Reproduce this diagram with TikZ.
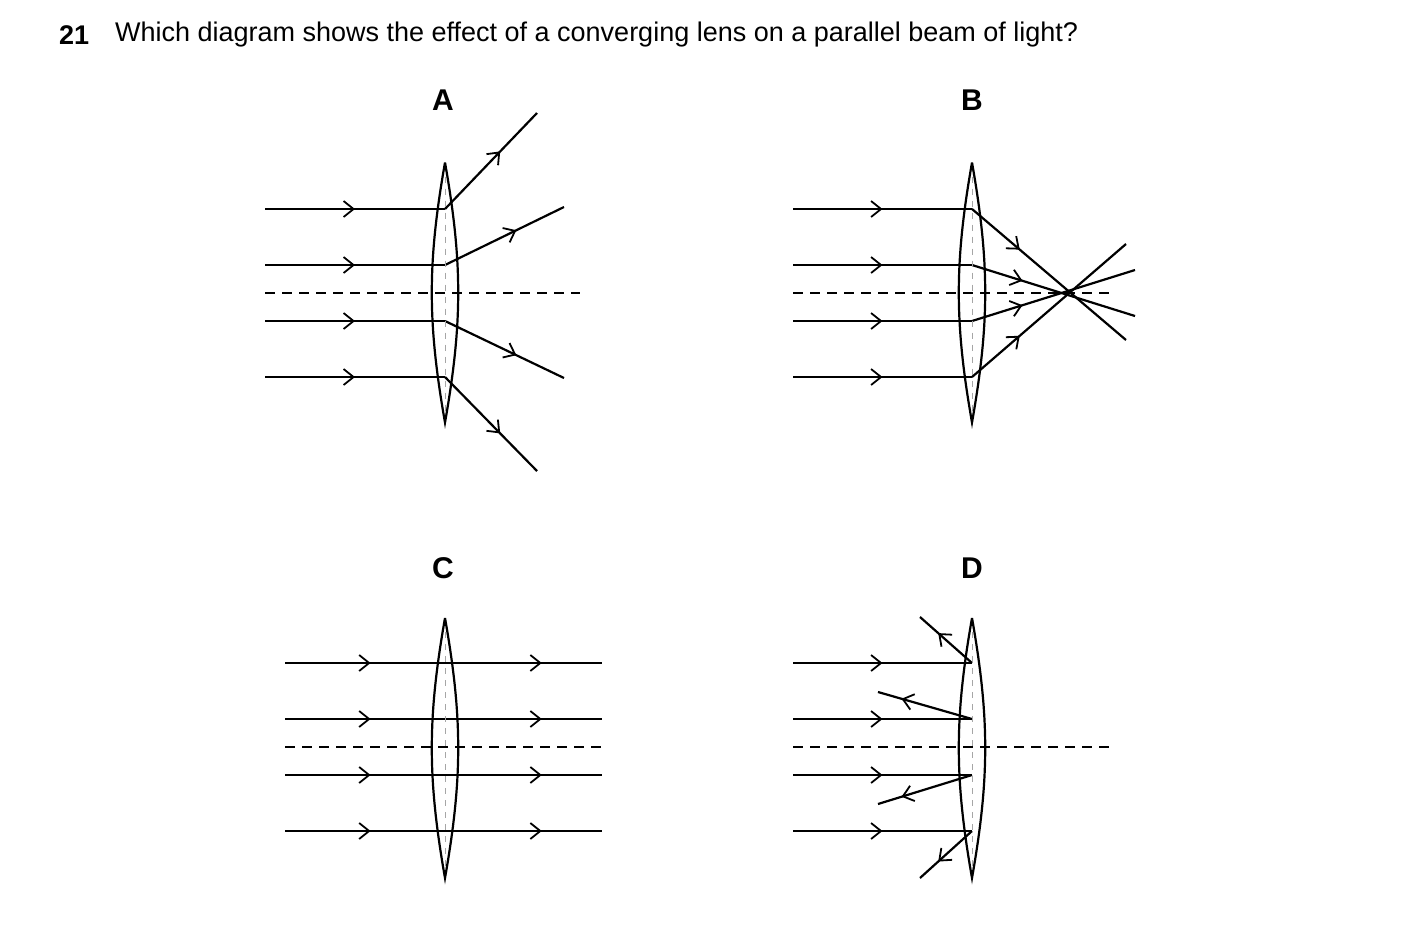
\documentclass[tikz,border=0pt]{standalone}
\usepackage{fontspec}
\setmainfont{Liberation Sans}
\usetikzlibrary{arrows.meta, decorations.markings}

\newcommand{\lenspic}[2]{%
    \draw[gray!70, dashed, thin] (#1,#2-128) -- (#1,#2+128);
    \draw[line width=1.1pt] (#1,#2-130) to[bend right=10] (#1,#2+130) to[bend right=10] (#1,#2-130);
}

\begin{document}
\begin{tikzpicture}[
        x=0.5pt, y=-0.5pt,
        >={Straight Barb[length=5pt, width=8pt, line width=0.9pt]},
        ray/.style={line width=1.1pt, postaction={decorate, decoration={markings,
            mark=at position #1 with {\arrow{>}}}}},
        ray2/.style 2 args={line width=1.1pt, postaction={decorate, decoration={markings,
            mark=at position #1 with {\arrow{>}},
            mark=at position #2 with {\arrow{>}}}}},
        axis/.style={line width=0.7pt, dash pattern=on 5pt off 3.5pt},
        label/.style={font=\bfseries\fontsize{15}{18}\selectfont}
    ]
        \useasboundingbox (0,0) rectangle (1403,928);

        % Question
        \node[anchor=west, font=\bfseries\fontsize{13.5}{16}\selectfont] (num) at (52,35) {21};
        \node[anchor=west, font=\fontsize{13.5}{16}\selectfont] (question) at (108,35) {Which diagram shows the effect of a converging lens on a parallel beam of light?};

        % Labels
        \node[label] (labA) at (443,100) {A};
        \node[label] (labB) at (972,100) {B};
        \node[label] (labC) at (443,568) {C};
        \node[label] (labD) at (972,568) {D};

        % A
        \draw[axis] (265,293) -- (580,293);
        \foreach \y/\ex/\ey in {209/537/113, 265/564/207, 321/564/378, 377/537/471} {
            \coordinate (a-in) at (265,\y);
            \coordinate (a-lens) at (445,\y);
            \coordinate (a-out) at (\ex,\ey);
            \draw[ray=0.5] (a-in) -- (a-lens);
            \draw[ray=0.6] (a-lens) -- (a-out);
        }
        \lenspic{445}{292.5}

        % B
        \draw[axis] (793,293) -- (1110,293);
        \foreach \y/\ex/\ey in {209/1126/340, 265/1135/316, 321/1135/270, 377/1126/244} {
            \coordinate (b-in) at (793,\y);
            \coordinate (b-lens) at (972,\y);
            \coordinate (b-out) at (\ex,\ey);
            \draw[ray=0.5] (b-in) -- (b-lens);
            \draw[ray=0.31] (b-lens) -- (b-out);
        }
        \lenspic{972}{292.5}

        % C
        \draw[axis] (285,747) -- (602,747);
        \foreach \y in {663, 719, 775, 831} {
            \coordinate (c-in) at (285,\y);
            \coordinate (c-out) at (602,\y);
            \draw[ray2={0.27}{0.81}] (c-in) -- (c-out);
        }
        \lenspic{445}{748}

        % D
        \draw[axis] (793,747) -- (1110,747);
        \foreach \y/\ex/\ey/\p in {663/920/617/0.65, 719/878/692/0.75, 775/878/804/0.75, 831/920/878/0.65} {
            \coordinate (d-in) at (793,\y);
            \coordinate (d-lens) at (972,\y);
            \coordinate (d-out) at (\ex,\ey);
            \draw[ray=0.5] (d-in) -- (d-lens);
            \draw[ray=\p] (d-lens) -- (d-out);
        }
        \lenspic{972}{748}
\end{tikzpicture}
\end{document}
